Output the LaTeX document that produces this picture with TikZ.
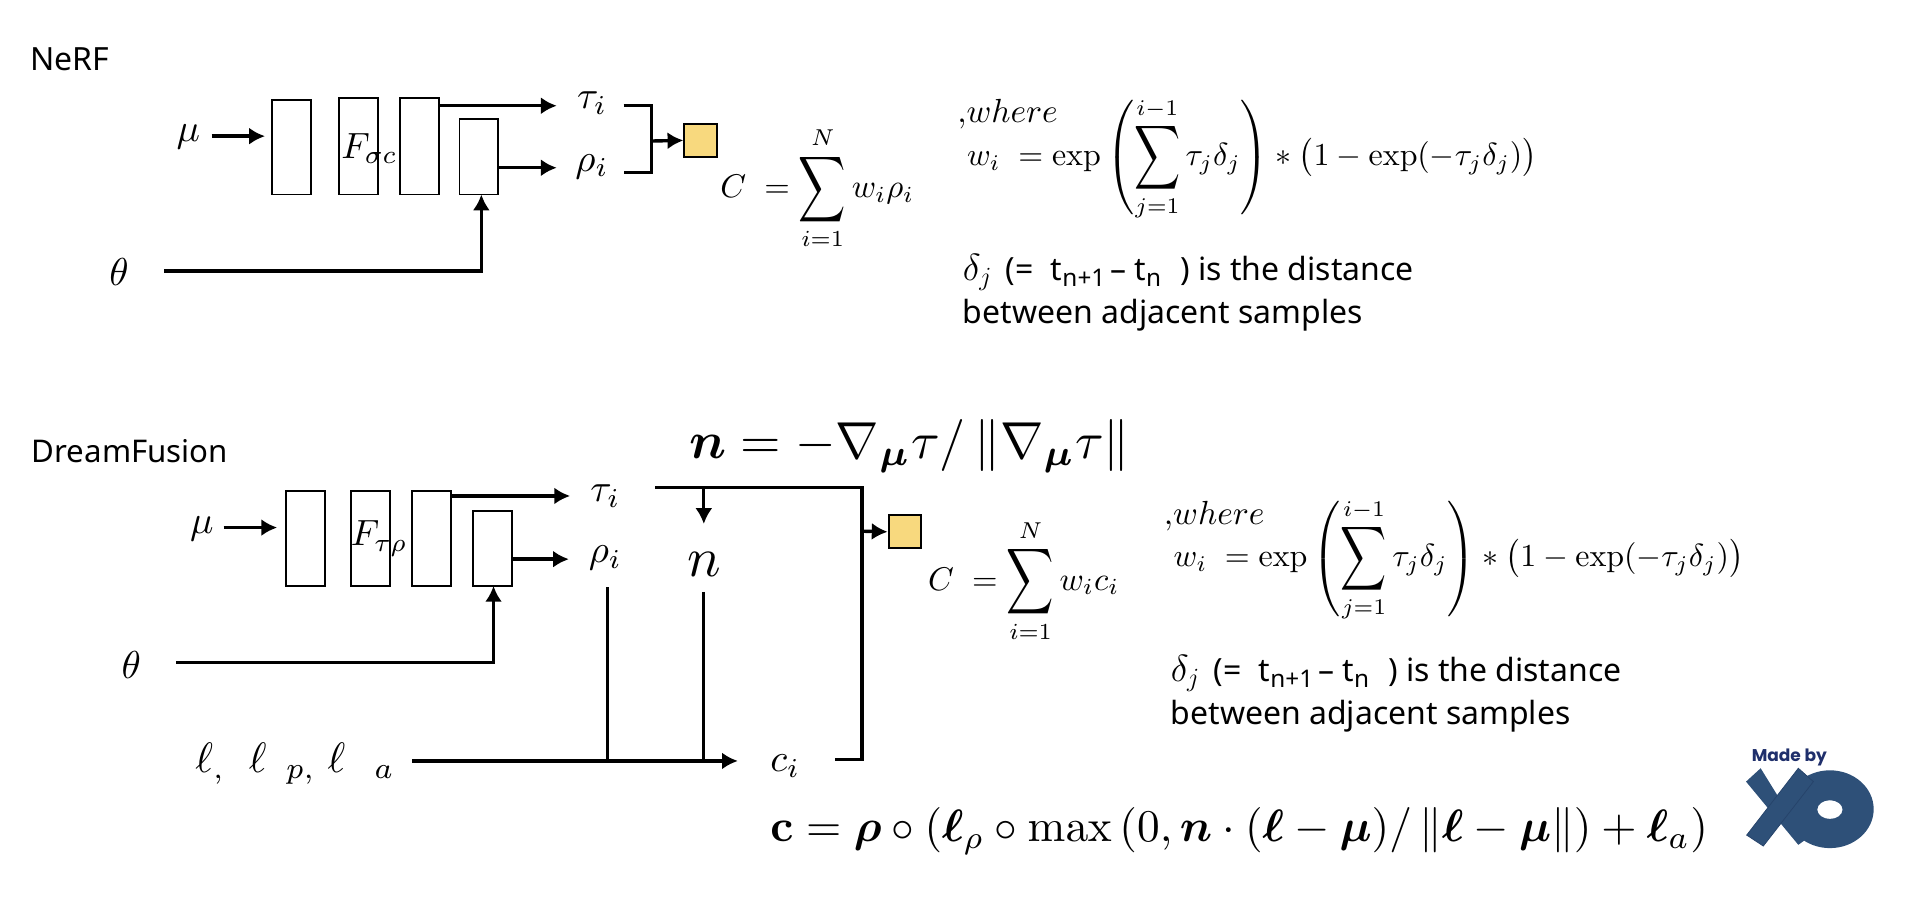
\documentclass[tikz,border=0pt]{standalone}
\usepackage{amsmath,amssymb,bm}
\usepackage{graphicx}
\usepackage{xcolor}
\usepackage[no-math]{fontspec}
\setmainfont{Noto Sans}
\newfontfamily\logofont{Poppins}
\usetikzlibrary{arrows.meta}
\definecolor{boxyellow}{HTML}{F8D97E}
\definecolor{logoblue}{HTML}{2E5078}
\definecolor{logoedge}{HTML}{26436A}
\definecolor{logonavy}{HTML}{1F2F6B}
\newcommand{\tallsum}{\mathop{\vcenter{\hbox{\scalebox{1}[1.4]{$\displaystyle\sum$}}}}\limits}
\newcommand{\sansub}[1]{\raisebox{-5pt}{\fontsize{20}{22}\selectfont #1}}
\newcommand{\weightline}{$w_i\;=\exp\left(\tallsum_{j=1}^{i-1}\tau_j\delta_j\right)*\bigl(1-\exp(-\tau_j\delta_j)\bigr)$}
\newcommand{\gapline}{\scalebox{1.25}{$\delta_j$}\, (=\; t\sansub{n+1}\hspace{4pt}–\hspace{7pt}t\sansub{n}\hspace{9pt} ) is the distance}
\tikzset{
  layerbox/.style={draw,line width=1.6pt,fill=white,inner sep=0pt,minimum width=32pt},
  colorbox/.style={draw,line width=1.6pt,fill=boxyellow,inner sep=0pt,minimum width=27pt,minimum height=27pt},
  link/.style={line width=2.8pt},
  linkto/.style={line width=2.8pt,-{Latex[length=13pt,width=14pt]}},
  thinlink/.style={line width=2.4pt},
  sym/.style={inner sep=0pt},
  eqn/.style={inner sep=0pt,anchor=west},
  plain/.style={inner sep=0pt,anchor=west,font=\fontsize{26.3}{30}\selectfont},
}
\begin{document}
\begin{tikzpicture}[x=1pt,y=-1pt]
  \useasboundingbox (0,0) rectangle (1568,758.3);
  % NeRF
  \node[plain] (nerf) at (25,49) {NeRF};
  \node[layerbox,minimum height=78pt] (a1) at (240,121) {};
  \node[layerbox,minimum height=79pt] (a2) at (295,120.5) {};
  \node[layerbox,minimum height=79pt] (a3) at (345,120.5) {};
  \node[layerbox,minimum height=62pt] (a4) at (394,129) {};
  \node[sym,scale=3.2] (amu) at (155,113) {$\mu$};
  \node[sym,scale=3.2] (atheta) at (98,224) {$\theta$};
  \node[sym,scale=3] (af) at (304,122) {$F_{\sigma c}$};
  \node[sym,scale=3.2] (atau) at (487,85) {$\tau_i$};
  \node[sym,scale=3.2] (arho) at (487,137) {$\rho_i$};
  \node[colorbox] (acol) at (576.5,115.5) {};
  \coordinate (amuend) at (218,112);
  \coordinate (amustart) at (174,112);
  \coordinate (ataustart) at (361,87);
  \coordinate (atauend) at (458,87);
  \coordinate (arhoend) at (458,138);
  \coordinate (athetastart) at (135,223);
  \coordinate (athetacorner) at (396,223);
  \coordinate (athetaend) at (396,160);
  \coordinate (abr1) at (513,87);
  \coordinate (abr2) at (536,87);
  \coordinate (abr3) at (536,142);
  \coordinate (abr4) at (513,142);
  \coordinate (abrm) at (536,116);
  \draw[linkto] (amustart) -- (amuend);
  \draw[linkto] (ataustart) -- (atauend);
  \draw[linkto] (a4.east |- arhoend) -- (arhoend);
  \draw[linkto] (athetastart) -- (athetacorner) -- (athetaend);
  \draw[link] (abr1) -- (abr2) -- (abr3) -- (abr4);
  \draw[linkto] (abrm) -- (acol.west);
  \node[eqn,scale=2.7] (aeq) at (592,155) {$C\;=\tallsum_{i=1}^{N} w_i\rho_i$};
  \node[eqn,scale=2.75] (awhere) at (787,94) {$,\!where$};
  \node[eqn,scale=2.63] (aw) at (795,131) {\weightline};
  \node[plain] (ad1) at (792,224) {\gapline};
  \node[plain] (ad2) at (792,259) {between adjacent samples};
  % DreamFusion
  \node[plain,font=\fontsize{25.7}{30}\selectfont] (dream) at (26,371) {DreamFusion};
  \node[layerbox,minimum height=78pt] (b1) at (251,443) {};
  \node[layerbox,minimum height=78pt] (b2) at (305,443) {};
  \node[layerbox,minimum height=78pt] (b3) at (355,443) {};
  \node[layerbox,minimum height=62pt] (b4) at (405,451) {};
  \node[sym,scale=3.2] (bmu) at (166,435) {$\mu$};
  \node[sym,scale=3.2] (btheta) at (108,547) {$\theta$};
  \node[sym,scale=3] (bf) at (312,443) {$F_{\tau\rho}$};
  \node[sym,scale=3.2] (btau) at (498,408) {$\tau_i$};
  \node[sym,scale=3.2] (brho) at (498,459) {$\rho_i$};
  \node[sym,scale=4.6] (bn) at (579,464) {$n$};
  \node[sym,scale=3.2] (bc) at (646,630) {$c_i$};
  \node[sym,scale=3.5,anchor=west] (bl) at (160,628) {$\ell_{,}\;\;\ell_{\;\;p,}\;\ell_{\;\;\;a}$};
  \node[colorbox] (bcol) at (744.5,437.5) {};
  \coordinate (bmustart) at (184,434);
  \coordinate (bmuend) at (228,434);
  \coordinate (btaustart) at (371,408);
  \coordinate (btauend) at (469,408);
  \coordinate (brhoend) at (468,460);
  \coordinate (bthetastart) at (145,545);
  \coordinate (bthetacorner) at (406,545);
  \coordinate (bthetaend) at (406,482);
  \coordinate (bt1) at (539,401);
  \coordinate (bt2) at (709,401);
  \coordinate (bt3) at (709,625);
  \coordinate (bt4) at (687,625);
  \coordinate (bnarrow) at (579,431);
  \coordinate (bnmid) at (579,401);
  \coordinate (bnstart) at (579,487);
  \coordinate (bnfoot) at (579,626);
  \coordinate (brstart) at (500,483);
  \coordinate (brfoot) at (500,626);
  \coordinate (blstart) at (339,626);
  \coordinate (blend) at (607,626);
  \coordinate (bjoin) at (709,437);
  \draw[linkto] (bmustart) -- (bmuend);
  \draw[linkto] (btaustart) -- (btauend);
  \draw[linkto] (b4.east |- brhoend) -- (brhoend);
  \draw[linkto] (bthetastart) -- (bthetacorner) -- (bthetaend);
  \draw[link] (bt1) -- (bt2) -- (bt3) -- (bt4);
  \draw[linkto,line width=2.4pt] (bnmid) -- (bnarrow);
  \draw[thinlink] (bnstart) -- (bnfoot);
  \draw[thinlink] (brstart) -- (brfoot);
  \draw[linkto] (blstart) -- (blend);
  \draw[linkto] (bjoin) -- (bcol.west);
  \node[eqn,scale=2.7] (beq) at (763,478) {$C\;=\tallsum_{i=1}^{N} w_ic_i$};
  \node[eqn,scale=2.75] (bwhere) at (957,425) {$,\!where$};
  \node[eqn,scale=2.63] (bw) at (965,461) {\weightline};
  \node[plain] (bd1) at (963,554) {\gapline};
  \node[plain] (bd2) at (963,589) {between adjacent samples};
  \node[eqn,scale=4.28] (neq) at (566,367) {$\bm{n}=-\nabla_{\bm{\mu}}\tau/\left\|\nabla_{\bm{\mu}}\tau\right\|$};
  \node[eqn,scale=3.73] (ceq) at (633,684) {$\mathbf{c}=\bm{\rho}\circ\left(\bm{\ell}_{\rho}\circ\max\left(0,\bm{n}\cdot(\bm{\ell}-\bm{\mu})/\left\|\bm{\ell}-\bm{\mu}\right\|\right)+\bm{\ell}_{a}\right)$};
  % logo
  \fill[logoblue,even odd rule] (1505.4,665.7) ellipse (36 and 32) (1505.4,666) ellipse (10.4 and 7.7);
  \fill[logoblue] (1436.4,643) -- (1448.4,632) -- (1484.9,691) -- (1479.4,695) -- cycle;
  \fill[logoblue,draw=logoedge,line width=0.6pt] (1479.4,632) -- (1491.8,643) -- (1450.6,696) -- (1436.9,687) -- cycle;
  \node[inner sep=0pt,text=logonavy,font=\logofont\bfseries\fontsize{14}{16}\selectfont] (madeby) at (1472,623) {Made by};
\end{tikzpicture}
\end{document}
